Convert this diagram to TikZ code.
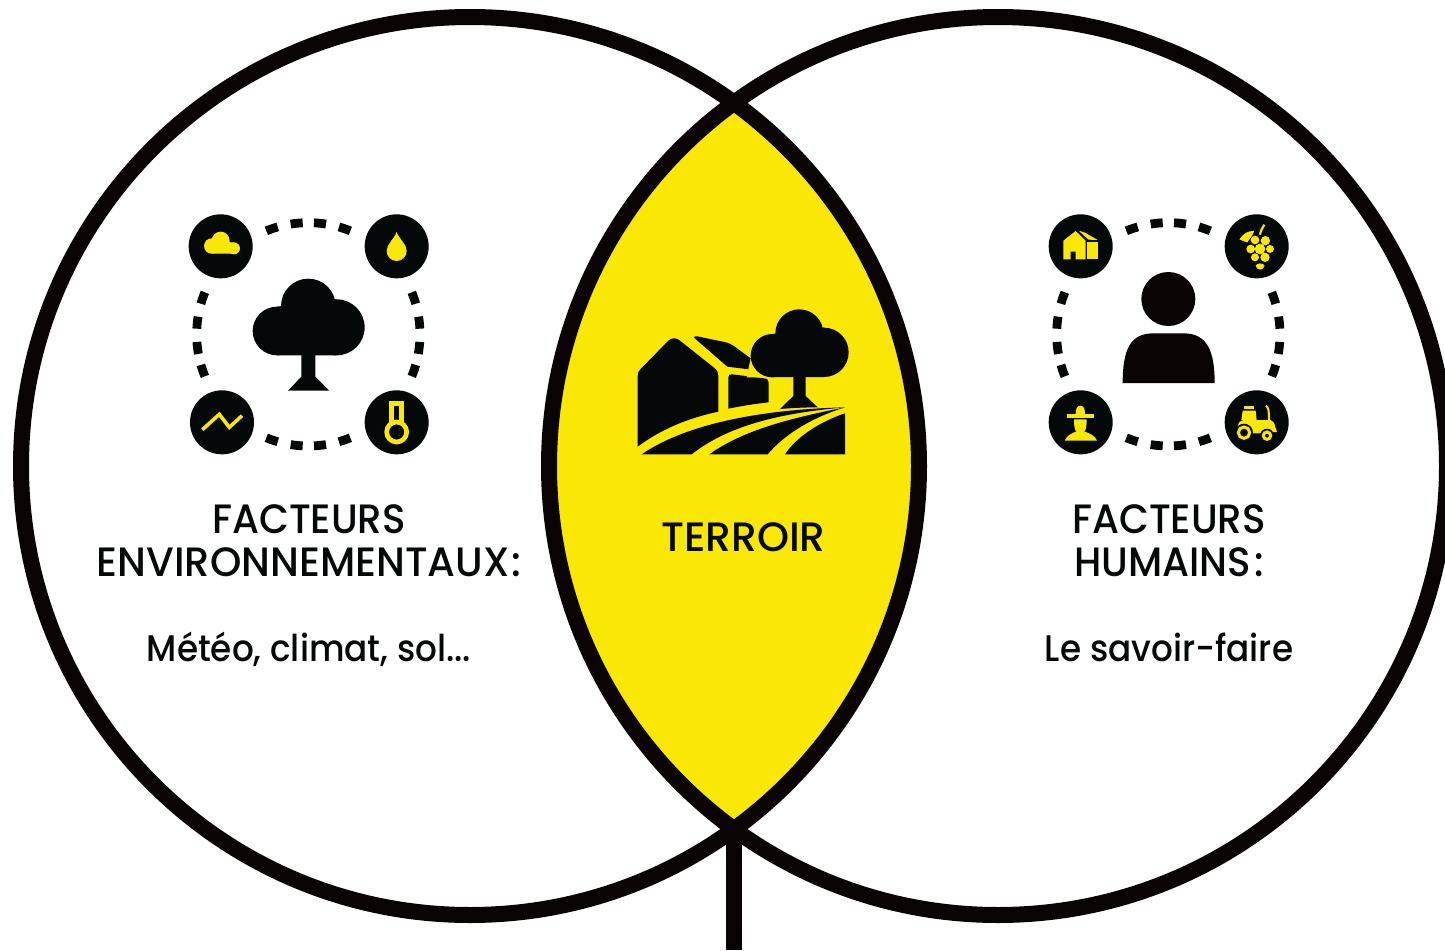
\documentclass[tikz,border=0pt]{standalone}
\usepackage{fontspec}
\setmainfont{Poppins}[UprightFont=* Medium]
\definecolor{ink}{HTML}{050808}
\definecolor{stemink}{HTML}{0A0304}
\definecolor{lemon}{HTML}{F9E805}
\tikzset{
  bigring/.style={draw=stemink,line width=16pt},
  iconbg/.style={fill=ink},
  yel/.style={fill=lemon},
  blk/.style={fill=ink},
  ringdash/.style={draw=ink,line width=8.8pt},
  label/.style={anchor=base,inner sep=0pt,text=ink,font=\fontsize{41}{41}\selectfont\addfontfeature{FakeStretch=0.945}},
  widelabel/.style={label,font=\fontsize{41}{41}\selectfont\addfontfeature{FakeStretch=0.975}},
  terrlabel/.style={label,font=\fontsize{41}{41}\selectfont\addfontfeature{FakeStretch=0.995}},
  lowlabel/.style={label,font=\fontsize{37}{37}\selectfont\addfontfeature{FakeStretch=0.925}},
  zoomed/.style={x=0.33333pt,y=-0.33333pt},
}
\newcommand{\dashring}{%
  \begin{scope}[xshift=415*0.33333pt,yshift=-403*0.33333pt]
  \foreach \a in {71,84,96,109,-71,-84,-96,-109,161,173,186,199,19,7,-6,-19}{
    \draw[ringdash] (\a-3.1:335) arc (\a-3.1:\a+3.1:335);
  }
  \end{scope}
}
\begin{document}
\begin{tikzpicture}[x=1pt,y=-1pt]
\useasboundingbox (0,0) rectangle (1445,950);
\fill[white] (0,0) rectangle (1445,950);
\clip (0,0) rectangle (1445,950);
% lens
\begin{scope}
  \clip (470,466) circle (449);
  \fill[lemon] (998,466) circle (449);
\end{scope}
\coordinate (stemtop) at (734,825);
\coordinate (stembot) at (734,950);
\draw[bigring] (stemtop) -- (stembot);
\draw[bigring] (470,466) circle (449);
\draw[bigring] (998,466) circle (449);

% LEFT ICONS
\begin{scope}[xshift=170pt,yshift=-200pt,zoomed]
  \dashring
  \foreach \cx/\cy in {152/139,680/139,156/667,680/667}{\fill[iconbg] (\cx,\cy) circle (96);}
  % tree
  \fill[blk] (415,318) circle (82) (321,393) circle (73) (500,382) circle (84);
  \fill[blk] (321,466) -- (321,320) -- (500,298) -- (500,466) -- cycle;
  \fill[blk] (394,460) -- (394,530) -- (354,572) -- (478,572) -- (436,530) -- (436,460) -- cycle;
  % cloud
  \fill[yel] (152,122) circle (27) (125,138) circle (23) (192,145) circle (18);
  \fill[yel] (125,161) -- (125,125) -- (190,127) -- (192,161) -- cycle;
  % drop
  \fill[yel] (680,96) .. controls (672,118) and (650,132) .. (650,153) arc (180:0:30) .. controls (710,132) and (688,118) .. (680,96) -- cycle;
  % chart
  \draw[draw=lemon,line width=3.6pt] (97,689) -- (148,643) -- (178,682) -- (216,647);
  % thermometer
  \draw[draw=lemon,line width=4.7pt] (665,668) -- (665,610) -- (695,610) -- (695,668);
  \draw[draw=lemon,line width=4.7pt] (680,696) circle (30);
\end{scope}

% RIGHT ICONS
\begin{scope}[xshift=1030pt,yshift=-200pt,zoomed]
  \dashring
  \foreach \cx/\cy in {152/139,680/139,152/667,680/667}{\fill[iconbg] (\cx,\cy) circle (96);}
  % person
  \fill[stemink] (415,297) circle (81);
  \fill[stemink] (278,549) .. controls (278,450) and (300,400) .. (370,400) -- (460,400) .. controls (530,400) and (554,450) .. (554,549) -- cycle;
  % house
  \fill[yel] (100,178) -- (100,122) -- (137,93) -- (167,122) -- (167,178) -- (137,178) -- (137,155) -- (122,155) -- (122,178) -- cycle;
  \fill[yel] (172,125) -- (204,125) -- (204,178) -- (172,178) -- cycle;
  \fill[yel] (146,92) -- (165,98) -- (203,120) -- (175,119) -- cycle;
  % grapes
  \fill[yel] (690,147) circle (16) (675,120) circle (13) (706,122) circle (14) (662,147) circle (13) (720,147) circle (12) (675,172) circle (12) (705,172) circle (14);
  \fill[yel] (677,197) .. controls (680,188) and (700,188) .. (704,197) .. controls (702,205) and (696,208) .. (690,209) .. controls (684,208) and (679,205) .. (677,197) -- cycle;
  \fill[yel] (628,118) .. controls (640,100) and (655,92) .. (672,93) .. controls (670,105) and (660,115) .. (652,127) .. controls (645,125) and (635,122) .. (628,118) -- cycle;
  \draw[draw=lemon,line width=2.2pt] (690,104) .. controls (692,92) and (697,84) .. (703,74);
  % farmer
  \fill[yel] (137,642) .. controls (137,625) and (142,617) .. (151,617) .. controls (160,617) and (165,625) .. (165,642) -- cycle;
  \fill[yel] (112,642) rectangle (192,654);
  \fill[yel] (132,658) -- (170,658) .. controls (170,680) and (168,690) .. (162,696) -- (140,696) .. controls (134,690) and (132,680) .. (132,658) -- cycle;
  \fill[yel] (104,722) .. controls (110,706) and (125,700) .. (140,694) -- (162,694) .. controls (178,700) and (195,706) .. (201,722) -- cycle;
  % tractor
  \fill[yel] (642,618) -- (672,618) -- (672,627) -- (642,627) -- cycle;
  \fill[yel] (638,632) -- (677,632) -- (680,660) -- (634,660) -- cycle;
  \fill[yel] (622,680) .. controls (626,668) and (630,660) .. (640,660) -- (722,660) -- (732,668) -- (741,696) -- (700,696) -- (690,700) -- (668,700) -- (660,680) -- cycle;
  \draw[draw=lemon,line width=2pt] (708,617) .. controls (715,622) and (717,630) .. (717,660);
  \fill[iconbg] (642,698) circle (27) (711,707) circle (21);
  \draw[draw=lemon,line width=3pt] (642,698) circle (17);
  \draw[draw=lemon,line width=3pt] (711,707) circle (11);
\end{scope}

% TERROIR ICON
\begin{scope}[xshift=620pt,yshift=-290pt,zoomed]
  \fill[blk] (53,470) -- (53,258) .. controls (53,248) and (56,243) .. (62,237) -- (145,152) .. controls (155,143) and (170,142) .. (180,152) -- (282,233) .. controls (292,241) and (295,248) .. (295,258) -- (295,365) .. controls (200,385) and (120,420) .. (53,470) -- cycle;
  \fill[blk] (222,143) .. controls (222,138) and (226,138) .. (232,139) -- (318,157) .. controls (335,162) and (345,170) .. (355,178) -- (392,205) -- (412,241) -- (322,230) -- cycle;
  \fill[blk] (325,262) .. controls (325,254) and (330,252) .. (337,253) -- (432,265) .. controls (442,266) and (446,270) .. (446,278) -- (446,337) .. controls (400,342) and (360,349) .. (325,356) -- cycle;
  % tree
  \fill[yel] (392,205) -- (412,241) -- (440,262) -- (380,262) -- cycle;
  \fill[blk] (538,130) circle (72) (457,197) circle (65) (612,187) circle (74);
  \fill[blk] (457,261) -- (457,132) -- (612,113) -- (612,261) -- cycle;
  \fill[blk] (520,255) -- (520,318) -- (480,357) .. controls (515,354) and (555,352) .. (593,352) -- (557,318) -- (557,255) -- cycle;
  % fields
  \fill[blk] (65,493) .. controls (200,400) and (430,358) .. (675,352) .. controls (470,370) and (320,410) .. (215,493) -- cycle;
  \fill[blk] (268,493) .. controls (370,420) and (510,385) .. (675,352) .. controls (590,378) and (500,425) .. (443,493) -- cycle;
  \fill[blk] (675,370) -- (675,493) -- (495,493) .. controls (530,440) and (600,395) .. (675,370) -- cycle;
\end{scope}

% TEXT
\node[label] (envA) at (309,533) {FACTEURS};
\node[widelabel] (envB) at (309,576) {ENVIRONNEMENTAUX\kern2pt:};
\node[lowlabel] (envC) at (309,661) {Météo, climat, sol...};
\node[terrlabel] (terr) at (743.5,551) {TERROIR};
\node[label] (humA) at (1169,533) {FACTEURS};
\node[label] (humB) at (1169,576) {HUMAINS\kern3pt:};
\node[lowlabel] (humC) at (1169,661) {Le savoir-faire};
\end{tikzpicture}
\end{document}
